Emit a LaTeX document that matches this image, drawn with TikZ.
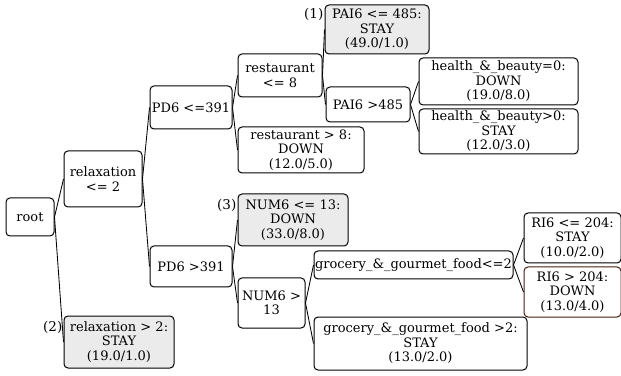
\documentclass[tikz,border=0pt]{standalone}
\usepackage{fontspec}
\setmainfont{DejaVu Serif}
\definecolor{leafgray}{HTML}{EBEBEB}
\definecolor{edgebrown}{RGB}{70,30,20}
\begin{document}
\begin{tikzpicture}[x=1pt,y=1pt,
  box/.style={draw=black, line width=1pt, rounded corners=4pt, align=center,
    inner sep=1pt, font=\fontsize{13}{14.5}\selectfont},
  leaf/.style={box, fill=leafgray},
  tag/.style={anchor=east, inner sep=1pt, font=\fontsize{13.5}{15}\selectfont},
  branch/.style={line width=0.85pt}]
\useasboundingbox (0,0) rectangle (621,375);

% decision nodes and leaves
\node[box, minimum width=48, minimum height=38] (root) at (30,158) {root};
\node[box, minimum width=78, minimum height=56] (relA) at (103,196) {relaxation\\<= 2};
\node[leaf, minimum width=110, minimum height=52] (relB) at (119,33) {relaxation > 2:\\STAY\\(19.0/1.0)};
\node[box, minimum width=82, minimum height=43] (pdA) at (191,267.5) {PD6 <=391};
\node[box, minimum width=82, minimum height=41] (pdB) at (191,108.5) {PD6 >391};
\node[box, minimum width=84, minimum height=43] (restA) at (280,299.5) {restaurant\\<= 8};
\node[box, minimum width=126, minimum height=46] (restB) at (301,225) {restaurant > 8:\\DOWN\\(12.0/5.0)};
\node[leaf, minimum width=104, minimum height=49] (paiA) at (377,345.5) {PAI6 <= 485:\\STAY\\(49.0/1.0)};
\node[box, minimum width=84, minimum height=35] (paiB) at (368,270.5) {PAI6 >485};
\node[box, minimum width=159, minimum height=47] (hbA) at (498.5,293.5) {health\_\&\_beauty=0:\\DOWN\\(19.0/8.0)};
\node[box, minimum width=159, minimum height=45] (hbB) at (498.5,243.5) {health\_\&\_beauty>0:\\STAY\\(12.0/3.0)};
\node[leaf, minimum width=110, minimum height=52] (numA) at (293,155) {NUM6 <= 13:\\DOWN\\(33.0/8.0)};
\node[box, minimum width=67, minimum height=50] (numB) at (271.5,72) {NUM6 >\\13};
\node[box, minimum width=199, minimum height=28] (groA) at (413.5,110) {grocery\_\&\_gourmet\_food<=2};
\node[box, minimum width=213, minimum height=53] (groB) at (420.5,31.5) {grocery\_\&\_gourmet\_food >2:\\STAY\\(13.0/2.0)};
\node[box, minimum width=97, minimum height=50] (riA) at (572.5,137) {RI6 <= 204:\\STAY\\(10.0/2.0)};
\node[box, draw=edgebrown, minimum width=97, minimum height=50] (riB) at (572.5,83) {RI6 > 204:\\DOWN\\(13.0/4.0)};

% leaf markers
\node[tag] (t1) at ([yshift=-10pt]paiA.north west) {(1)};
\node[tag] (t2) at ([yshift=-12pt]relB.north west) {(2)};
\node[tag] (t3) at ([yshift=-12pt]numA.north west) {(3)};

% branches
\draw[branch] (root.east) -- (relA.west);
\draw[branch] (root.east) -- (relB.west);
\draw[branch] (relA.east) -- (pdA.west);
\draw[branch] (relA.east) -- (pdB.west);
\draw[branch] (pdA.east) -- (restA.west);
\draw[branch] (pdA.east) -- (restB.west);
\draw[branch] (restA.east) -- (paiA.west);
\draw[branch] (restA.east) -- (paiB.west);
\draw[branch] (paiB.east) -- (hbA.west);
\draw[branch] (paiB.east) -- (hbB.west);
\draw[branch] (pdB.east) -- (numA.west);
\draw[branch] (pdB.east) -- (numB.west);
\draw[branch] (numB.east) -- (groA.west);
\draw[branch] (numB.east) -- (groB.west);
\draw[branch] (groA.east) -- (riA.west);
\draw[branch] (groA.east) -- (riB.west);
\end{tikzpicture}
\end{document}
